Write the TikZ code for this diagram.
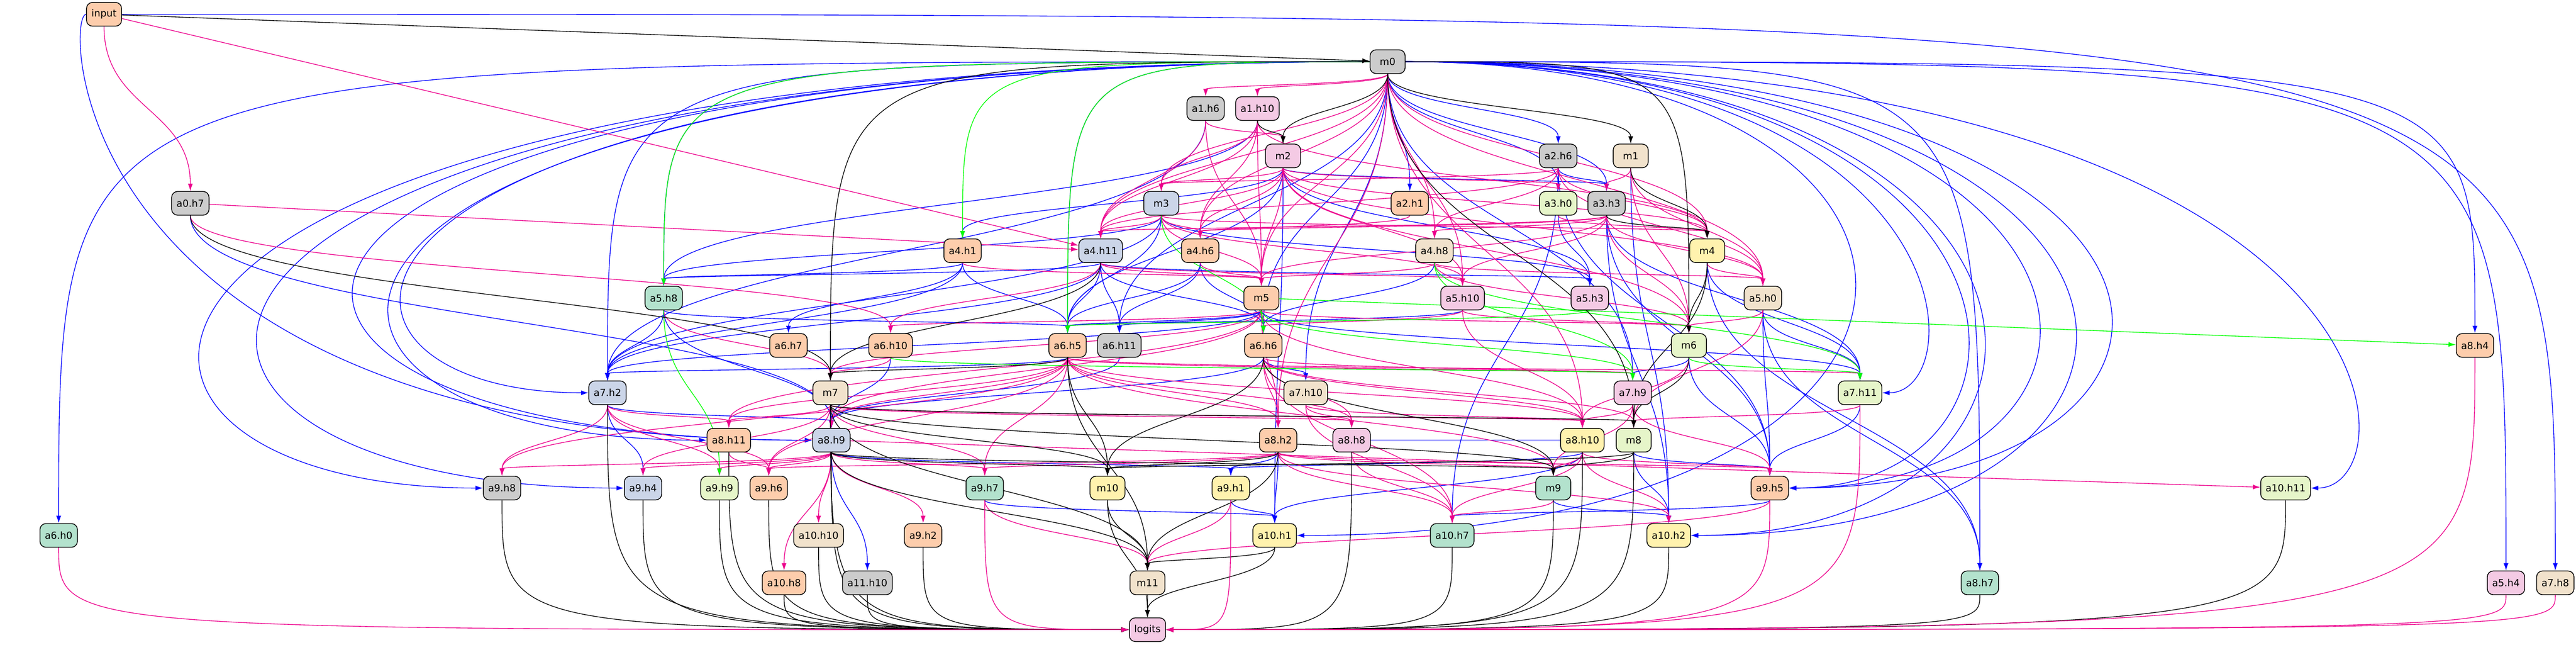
\documentclass[tikz,border=0pt]{standalone}
\usepackage{fontspec}
\setmainfont{DejaVu Sans}
\usetikzlibrary{calc,arrows.meta,backgrounds}
\definecolor{pgray}{HTML}{CCCCCC}
\definecolor{ppeach}{HTML}{FDCDAC}
\definecolor{pblue}{HTML}{CBD5E8}
\definecolor{ppink}{HTML}{F4CAE4}
\definecolor{pgreen}{HTML}{E6F5C9}
\definecolor{pyellow}{HTML}{FFF2AE}
\definecolor{pbeige}{HTML}{F1E2CC}
\definecolor{pmint}{HTML}{B3E2CD}
\begin{document}
\begin{tikzpicture}[
  hd/.style={draw, rounded corners=0.12cm, minimum width=0.71cm, minimum height=0.48cm,
    inner xsep=0.1cm, inner ysep=0pt, line width=0.45pt, font=\fontsize{5.6}{6}\selectfont},
  ln/.style={->, >={Latex[length=1.5mm,width=1mm]}, line width=0.4pt}
]
\useasboundingbox (0,0) rectangle (52.24,-13.07);
\foreach \n/\x/\y/\c/\l in {
  input/211/29/ppeach/input, m0/2814/125/pgray/m0,
  a1h6/2445/220/pgray/a1.h6, a1h10/2550/220/ppink/a1.h10,
  m2/2602/316/ppink/m2, a2h6/3160/316/pgray/a2.h6, m1/3307/316/pbeige/m1,
  a0h7/386/412/pgray/a0.h7, m3/2355/412/pblue/m3, a2h1/2859/412/ppeach/a2.h1,
  a3h0/3160/412/pgreen/a3.h0, a3h3/3258/412/pgray/a3.h3,
  a4h1/1952/508/ppeach/a4.h1, a4h11/2232/508/pblue/a4.h11, a4h6/2434/508/ppeach/a4.h6,
  a4h8/2909/508/pbeige/a4.h8, m4/3462/508/pyellow/m4,
  a5h8/1346/604/pmint/a5.h8, m5/2558/604/ppeach/m5, a5h10/2966/604/ppink/a5.h10,
  a5h3/3224/604/ppink/a5.h3, a5h0/3575/604/pbeige/a5.h0,
  a6h7/1599/700/ppeach/a6.h7, a6h10/1806/700/ppeach/a6.h10, a6h5/2165/700/ppeach/a6.h5,
  a6h11/2270/700/pgray/a6.h11, a6h6/2562/700/ppeach/a6.h6, m6/3425/700/pgreen/m6,
  a8h4/5019/700/ppeach/a8.h4,
  a7h2/1232/796/pblue/a7.h2, m7/1684/796/pbeige/m7, a7h10/2648/796/pbeige/a7.h10,
  a7h9/3311/796/ppink/a7.h9, a7h11/3772/796/pgreen/a7.h11,
  a8h11/1478/892/ppeach/a8.h11, a8h9/1686/892/pblue/a8.h9, a8h2/2592/892/ppeach/a8.h2,
  a8h8/2741/892/ppink/a8.h8, a8h10/3209/892/pyellow/a8.h10, m8/3313/892/pgreen/m8,
  a9h8/1018/989/pgray/a9.h8, a9h4/1304/989/pblue/a9.h4, a9h9/1459/989/pgreen/a9.h9,
  a9h6/1559/989/ppeach/a9.h6, a9h7/1997/989/pmint/a9.h7, m10/2246/989/pyellow/m10,
  a9h1/2496/989/pyellow/a9.h1, m9/3150/989/pmint/m9, a9h5/3589/989/ppeach/a9.h5,
  a10h11/4635/989/pgreen/a10.h11,
  a6h0/119/1085/pmint/a6.h0, a10h10/1660/1085/pbeige/a10.h10, a9h2/1872/1085/ppeach/a9.h2,
  a10h1/2585/1085/pyellow/a10.h1, a10h7/2945/1085/pmint/a10.h7, a10h2/3384/1085/pyellow/a10.h2,
  a10h8/1590/1181/ppeach/a10.h8, a11h10/1759/1181/pgray/a11.h10, m11/2327/1181/pbeige/m11,
  a8h7/4015/1181/pmint/a8.h7, a5h4/5082/1181/ppink/a5.h4, a7h8/5182/1181/pbeige/a7.h8,
  logits/2327/1276/ppink/logits}
  \node[hd, fill=\c] (\n) at ({\x/100},{-\y/100}) {\l};

\begin{scope}[on background layer]
\foreach \src/\dst in {m0/a2h6, m0/a2h1, m0/a3h0, m0/a3h3, a2h6/a3h3, m2/a3h3, m2/a4h1,
  a4h11/a5h8, a4h1/a5h8, a1h10/a5h8, m3/a5h8, m3/a5h3, a4h11/a5h3, m2/a5h3, a3h0/a5h3,
  a4h1/a6h7, a4h1/a6h5, a4h11/a6h5, a5h8/a6h5, m3/a6h5, m2/a6h5, m5/a6h5,
  a4h6/a6h5, a5h10/a6h5, m5/a6h11, a4h11/a6h11, a4h6/a6h11, m0/a6h11, a4h11/a6h6,
  m5/a6h6, a4h6/a6h6, m0/a6h6, a4h8/a6h6, a4h11/a7h2, a5h8/a7h2, a4h1/a7h2, m3/a7h2,
  a6h5/a7h2, m5/a7h2, a1h6/a7h2, m0/a7h10, a6h6/a7h10, m6/a7h9, m0/a7h9, m4/a7h11,
  a3h3/a7h11, a5h0/a7h11, m5/a7h11, a7h2/a8h9, m7/a8h9, a6h6/a8h9, a6h10/a8h9,
  a5h8/a8h9, a6h11/a8h9, a0h7/a8h9, a8h10/a8h8, a7h2/a9h4, a8h9/a9h1,
  a8h2/a9h1, a8h10/a9h1, m8/a9h5, a7h11/a9h5, m6/a9h5, a5h0/a9h5, a3h3/a9h5, a2h6/a9h5,
  a9h1/a10h1, a8h2/a10h1, a9h7/a10h1, a8h10/a10h1, m2/a10h1, a9h5/a10h7, a2h6/a10h7,
  m9/a10h2, m8/a10h2, a3h3/a10h2, m1/a10h2, a8h9/a11h10, a5h0/a8h7, m4/a8h7}
  \draw[ln, blue] let \p1=(\src), \p2=(\dst) in
    (\src) .. controls (\x1,{(\y1+\y2)/2}) and (\x2,{(\y1+\y2)/2}) .. (\dst);
\foreach \src/\dst in {m0/a5h8, m0/a6h5, m0/a8h4, m0/a7h2, m0/a6h0, m0/a5h4, m0/a8h7,
  input/a7h8}
  \draw[ln, blue] let \p1=(\src), \p2=(\dst) in (\src) .. controls (\x2,\y1) .. (\dst);
% edges that swing round the sides
\foreach \src/\dst/\xx in {m0/a9h8/0.3, m0/a9h4/1.0, m0/a8h9/2.6, m0/a8h11/4.2,
  input/a8h9/1.3, m0/a7h2/5.4, m0/a9h5/42, m0/a9h5/44, m0/a9h5/46, m0/a10h2/43,
  m0/a10h2/45.5, m0/a10h1/41, m0/a7h11/40, m0/a10h11/49}
  \draw[ln, blue] let \p1=(\src), \p2=(\dst) in
    (\src) .. controls (\xx,\y1) and (\xx,\y2) .. (\dst);

\foreach \src/\dst in {input/a0h7, m0/a1h6, m0/a1h10, a1h6/m2, m2/a3h0, m1/a3h3,
  a1h10/m3, m2/m3, m0/m3, a2h6/m3, m0/a4h11, a1h10/a4h11, m2/a4h11, m3/a4h11,
  a2h6/a4h11, a3h3/a4h11, a1h6/a4h11, m3/a4h6, a1h10/a4h6, m2/a4h6, m0/a4h6, a3h3/a4h6,
  a2h1/a4h6, m0/a4h8, a3h3/a4h8, a2h6/a4h8, m0/m4, a2h6/m4, m2/m4, a3h0/m4, a1h10/m4,
  m3/m4, a4h1/m5, a4h11/m5, a4h6/m5, a1h6/m5, m2/m5, a1h10/m5, m3/m5, a4h8/m5, m0/m5,
  a3h3/m5, m2/a5h10, a3h3/a5h10, m0/a5h10, a4h11/a5h10, m3/a5h10, m4/a5h0, m1/a5h0,
  a3h3/a5h0, m0/a5h0, a2h6/a5h0, a4h8/a5h0, m2/a5h0, a4h11/a6h10, m5/a6h10, a0h7/a6h10,
  a5h10/a6h6, a5h0/m6, m5/m6, a3h3/m6, a4h8/m6, m2/m6, m1/m6, a5h10/m6, m5/m7,
  a6h10/m7, a5h8/m7, a6h5/a7h9, a6h6/a7h9, a6h5/a7h11, a6h5/a8h11, m7/a8h11,
  a7h2/a8h11, m5/a8h11, a6h5/a8h9, m5/a8h9, a6h5/a8h2, m5/a8h2, m0/a8h2, a6h6/a8h2,
  a6h5/a8h8, a6h6/a8h8, m7/a8h8, a7h10/a8h8, a6h5/a8h10, m7/a8h10, a7h9/a8h10,
  m5/a8h10, a6h6/a8h10, a5h10/a8h10, m0/a8h10, m6/a8h10, a7h10/a8h10, a7h11/m8,
  a6h6/m8, a7h9/m8, a5h0/m8, a7h2/a9h8, a8h9/a9h8, a6h5/a9h8, a8h9/a9h4, m7/a9h4,
  a7h2/a9h9, a8h9/a9h9, a8h9/a9h6, a7h2/a9h6, m7/a9h6, a6h5/a9h6, a8h11/a9h6,
  a8h2/a9h6, a8h9/a9h7, a6h5/a9h7, a8h2/a9h7, m7/a9h7, a8h10/m9, a7h9/m9, a8h2/m9,
  a6h5/m9, a8h10/a9h5, a8h2/a9h5, a7h9/a9h5, a8h9/a10h10, a8h9/a9h2, a8h2/a10h7,
  a8h8/a10h7, m9/a10h7, a8h10/a10h7, a6h6/a10h7, a7h10/a10h7, a8h10/a10h2, a8h2/a10h2,
  a8h9/a10h8, a9h7/m11, a9h1/m11, a9h5/m11}
  \draw[ln, magenta] let \p1=(\src), \p2=(\dst) in
    (\src) .. controls (\x1,{(\y1+\y2)/2}) and (\x2,{(\y1+\y2)/2}) .. (\dst);
\draw[ln, magenta] (input) -- (a4h11);
\draw[ln, magenta] (a0h7) -- (a4h11);
\draw[ln, magenta] (a8h9) -- (a10h11);

\foreach \src/\dst in {m5/a6h6, a5h3/a6h5, m5/a7h9, a4h8/a7h9, m6/a7h11, a4h8/a7h11,
  a5h8/a9h9, m3/a6h6, a6h10/a7h9}
  \draw[ln, green] let \p1=(\src), \p2=(\dst) in
    (\src) .. controls (\x1,{(\y1+\y2)/2}) and (\x2,{(\y1+\y2)/2}) .. (\dst);
\foreach \src/\dst in {m0/a4h1, m0/a5h8, m0/a6h5}
  \draw[ln, green] let \p1=(\src), \p2=(\dst) in (\src) .. controls (\x2,\y1) .. (\dst);
\draw[ln, green] (m5) -- (a8h4);

\draw[ln] (input) -- (m0);
\foreach \src/\dst in {m0/m2, a1h10/m2, m0/m1, m1/m4, a3h3/m4, m4/m6, a6h5/m7,
  a4h11/m7, a0h7/m7, m0/m8, m6/m8, m4/m8, m7/m8, a6h5/m10, a6h6/m10, a8h9/m10,
  a8h2/m10, m7/m10, m8/m10, m7/m9, m8/m9, a6h6/m9, a8h9/m9, m7/m11, a8h9/m11,
  m10/m11, a8h2/m11, a10h1/m11, a6h5/m11, m11/logits, m10/logits, a10h1/logits}
  \draw[ln] let \p1=(\src), \p2=(\dst) in
    (\src) .. controls (\x1,{(\y1+\y2)/2}) and (\x2,{(\y1+\y2)/2}) .. (\dst);
\foreach \src/\dst in {m0/m6, m0/m7}
  \draw[ln] let \p1=(\src), \p2=(\dst) in (\src) .. controls (\x2,\y1) .. (\dst);
\foreach \src in {a9h8, a9h4, a9h9, a9h6, a10h10, a10h8, a11h10, a9h2, a8h11, a7h2,
  m7, a8h9, a10h7, m9, a8h10, a10h2, a8h7, a10h11, a8h8, m8}
  \draw[ln] let \p1=(\src), \p2=(logits) in (\src) .. controls (\x1,\y2) .. (logits);
\foreach \src in {a6h0, a9h7, a5h4, a7h8, a8h4, a9h5, a7h11, a9h1}
  \draw[ln, magenta] let \p1=(\src), \p2=(logits) in (\src) .. controls (\x1,\y2) .. (logits);
\end{scope}
\end{tikzpicture}
\end{document}
